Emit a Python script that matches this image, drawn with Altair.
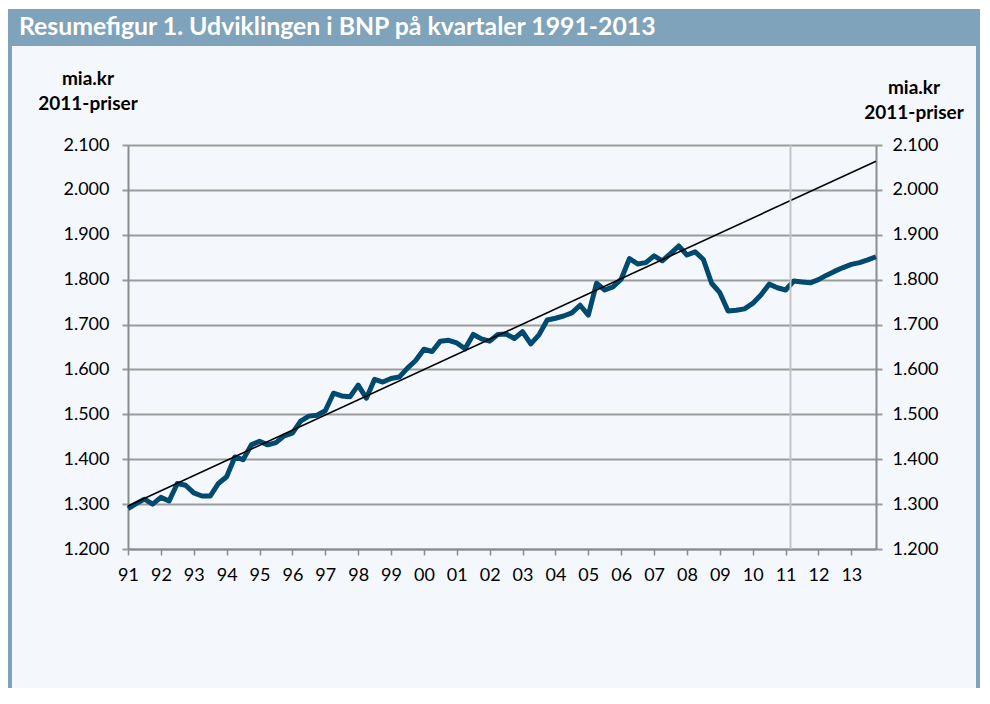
import altair as alt
import pandas as pd

# ---------------- data ----------------
quarters = list(range(92))  # 1991Q1 .. 2013Q4
bnp = [
    1290, 1301, 1311, 1300, 1315, 1307, 1346, 1342,   # 91-92
    1325, 1318, 1318, 1346, 1361, 1405, 1399, 1432,   # 93-94
    1440, 1432, 1437, 1452, 1458, 1485, 1496, 1498,   # 95-96
    1508, 1547, 1541, 1539, 1565, 1536, 1578, 1572,   # 97-98
    1580, 1583, 1603, 1620, 1645, 1640, 1663, 1665,   # 99-00
    1659, 1646, 1678, 1668, 1663, 1678, 1679, 1669,   # 01-02
    1684, 1657, 1677, 1710, 1714, 1719, 1726, 1743,   # 03-04
    1721, 1792, 1777, 1784, 1801, 1847, 1835, 1838,   # 05-06
    1853, 1842, 1858, 1875, 1855, 1862, 1845, 1792,   # 07-08
    1771, 1730, 1732, 1735, 1747, 1766, 1790, 1782,   # 09-10
    1777, 1797, 1795, 1793, 1800, 1810, 1819, 1827,   # 11-12
    1834, 1838, 1844, 1851,                           # 13
]
trend_x = [0, 91]
trend_y = [1296, 2064]
forecast_start = [80.6]
year_ticks = list(range(0, 92, 4))
year_labels = ["91", "92", "93", "94", "95", "96", "97", "98", "99", "00", "01",
               "02", "03", "04", "05", "06", "07", "08", "09", "10", "11", "12", "13"]
y_ticks = [1200, 1300, 1400, 1500, 1600, 1700, 1800, 1900, 2000, 2100]
title_text = "Resumefigur 1. Udviklingen i BNP på kvartaler 1991-2013"
unit_lines = ["mia.kr", "2011-priser"]

df = pd.DataFrame({"q": quarters, "bnp": bnp})
trend_df = pd.DataFrame({"q": trend_x, "v": trend_y})
rule_df = pd.DataFrame({"q": forecast_start})
one = pd.DataFrame({"a": [0]})

# ---------------- style ----------------
W, H = 748, 404
PAD_L, PAD_T, PAD_R, PAD_B = 120, 137, 104, 139
FONT = "Lato"
BG = "#f4f8fc"
BAR = "#7fa3ba"
LINE = "#00496f"
GRID = "#9b9b9b"

label_expr = "[" + ",".join(f"'{s}'" for s in year_labels) + "][datum.value/4]"
y_fmt = "replace(format(datum.value, ','), ',', '.')"

x_scale = alt.Scale(domain=[0, 91], nice=False, zero=False)
y_scale = alt.Scale(domain=[1200, 2100], nice=False, zero=False)

x_axis = alt.Axis(values=year_ticks, labelExpr=label_expr, title=None, grid=False,
                  domainColor="#8c8c8c", domainWidth=2, tickColor="#8c8c8c",
                  tickWidth=1.5, tickSize=6, labelFont=FONT, labelFontSize=18,
                  labelColor="#000000", labelPadding=11, labelFlush=False,
                  labelOverlap=False)
left_axis = alt.Axis(orient="left", values=y_ticks, labelExpr=y_fmt, title=None,
                     grid=True, gridColor=GRID, gridWidth=2,
                     domainColor="#8c8c8c", domainWidth=2, tickColor=GRID,
                     tickWidth=2, tickSize=6, labelPadding=13, labelFont=FONT,
                     labelFontSize=18, labelColor="#000000", labelFlush=False)
right_axis = alt.Axis(orient="right", values=y_ticks, labelExpr=y_fmt, title=None,
                      grid=False, domainColor="#8c8c8c", domainWidth=2,
                      tickColor=GRID, tickWidth=2, tickSize=6, labelPadding=10,
                      labelFont=FONT, labelFontSize=18, labelColor="#000000",
                      labelFlush=False)

# ---------------- decorations ----------------
canvas_w = PAD_L + W + PAD_R
canvas_h = PAD_T + H + PAD_B

title_bar = alt.Chart(one).mark_rect(color=BAR).encode(
    x=alt.value(-PAD_L), x2=alt.value(canvas_w - PAD_L),
    y=alt.value(-PAD_T + 1), y2=alt.value(-99))
left_border = alt.Chart(one).mark_rect(color=BAR).encode(
    x=alt.value(-PAD_L), x2=alt.value(-PAD_L + 4),
    y=alt.value(-99), y2=alt.value(canvas_h - PAD_T))
right_border = alt.Chart(one).mark_rect(color=BAR).encode(
    x=alt.value(canvas_w - PAD_L - 4), x2=alt.value(canvas_w - PAD_L),
    y=alt.value(-99), y2=alt.value(canvas_h - PAD_T))
top_white = alt.Chart(one).mark_rect(color="#ffffff").encode(
    x=alt.value(-PAD_L), x2=alt.value(canvas_w - PAD_L),
    y=alt.value(-PAD_T), y2=alt.value(-PAD_T + 1))

title = alt.Chart(one).mark_text(
    text=title_text, align="left", baseline="middle", font=FONT, fontSize=24.8,
    fontWeight="bold", color="white").encode(x=alt.value(-109), y=alt.value(-117))

unit_marks = []
for cx, ys in [(-40, (-66, -41)), (786, (-57, -32))]:
    for line_txt, yy in zip(unit_lines, ys):
        unit_marks.append(alt.Chart(one).mark_text(
            text=line_txt, align="center", baseline="middle", font=FONT,
            fontSize=19, fontWeight="bold", color="#000000").encode(
                x=alt.value(cx), y=alt.value(yy)))

# ---------------- data layers ----------------
series = alt.Chart(df).mark_line(color=LINE, strokeWidth=5, strokeJoin="round").encode(
    x=alt.X("q:Q", scale=x_scale, axis=x_axis),
    y=alt.Y("bnp:Q", scale=y_scale, axis=left_axis))

trend = alt.Chart(trend_df).mark_line(color="#000000", strokeWidth=1.6).encode(
    x=alt.X("q:Q", scale=x_scale, axis=x_axis),
    y=alt.Y("v:Q", scale=y_scale, axis=right_axis))

vrule = alt.Chart(rule_df).mark_rule(color="#c4c4c4", strokeWidth=2).encode(
    x=alt.X("q:Q", scale=x_scale, axis=x_axis))

chart = alt.layer(
    top_white, title_bar, left_border, right_border, title, *unit_marks,
    series, trend, vrule
).resolve_scale(y="independent").properties(
    width=W, height=H,
    padding={"left": PAD_L, "top": PAD_T, "right": PAD_R, "bottom": PAD_B},
    autosize=alt.AutoSizeParams(type="none"),
    background=BG,
).configure_view(stroke=None)

chart.save("out.html", embed_options={"renderer": "svg", "actions": False})
